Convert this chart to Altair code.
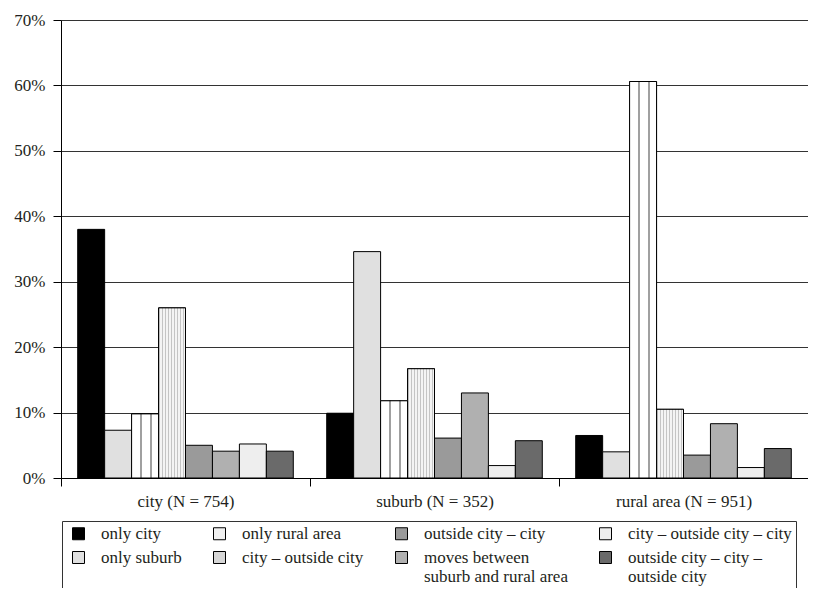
import altair as alt
import pandas as pd

# ---- data ----
areas = ["city (N = 754)", "suburb (N = 352)", "rural area (N = 951)"]
series = [
    "only city",
    "only suburb",
    "only rural area",
    "city – outside city",
    "outside city – city",
    "moves between suburb and rural area",
    "city – outside city – city",
    "outside city – city – outside city",
]
city_vals = [38.0, 7.3, 9.8, 26.0, 5.0, 4.1, 5.2, 4.1]
suburb_vals = [9.9, 34.6, 11.8, 16.7, 6.1, 13.0, 1.9, 5.7]
rural_vals = [6.5, 4.0, 60.6, 10.5, 3.5, 8.3, 1.6, 4.5]
y_ticks = [0, 10, 20, 30, 40, 50, 60, 70]

# legend is filled row by row, 4 columns
legend_order = [
    "only city",
    "only rural area",
    "outside city – city",
    "city – outside city – city",
    "only suburb",
    "city – outside city",
    "moves between suburb and rural area",
    "outside city – city – outside city",
]
legend_colors = [
    "#000000",
    "#f0f0f0",
    "#9a9a9a",
    "#eeeeee",
    "#e0e0e0",
    "#d6d6d6",
    "#b0b0b0",
    "#6a6a6a",
]

rows = []
for area, vals in zip(areas, [city_vals, suburb_vals, rural_vals]):
    for s, v in zip(series, vals):
        rows.append({"area": area, "series": s, "value": v / 100.0})
df = pd.DataFrame(rows)

FONT = "Liberation Serif"
TXT = "#231f20"


def stripes(n, line_col, bg_col, frac):
    stops = []
    for k in range(n):
        a = k / n
        b = (k + frac) / n
        c = (k + 1) / n
        stops += [
            {"offset": a, "color": line_col},
            {"offset": b, "color": line_col},
            {"offset": b, "color": bg_col},
            {"offset": c, "color": bg_col},
        ]
    return {"gradient": "linear", "x1": 0, "x2": 1, "y1": 0, "y2": 0, "stops": stops}


grad_vertical = stripes(9, "#c4c4c4", "#f4f4f4", 0.55)
grad_grid = {
    "gradient": "linear", "x1": 0, "x2": 1, "y1": 0, "y2": 0,
    "stops": [
        {"offset": 0.0, "color": "#ffffff"},
        {"offset": 0.33, "color": "#ffffff"},
        {"offset": 0.33, "color": "#a0a0a0"},
        {"offset": 0.40, "color": "#a0a0a0"},
        {"offset": 0.40, "color": "#ffffff"},
        {"offset": 0.70, "color": "#ffffff"},
        {"offset": 0.70, "color": "#a0a0a0"},
        {"offset": 0.77, "color": "#a0a0a0"},
        {"offset": 0.77, "color": "#ffffff"},
        {"offset": 1.0, "color": "#ffffff"},
    ],
}

label_expr = (
    "datum.label == 'moves between suburb and rural area' ? ['moves between', 'suburb and rural area'] : "
    "datum.label == 'outside city – city – outside city' ? ['outside city – city –', 'outside city'] : "
    "datum.label"
)

x_enc = alt.X(
    "area:N",
    sort=areas,
    scale=alt.Scale(paddingInner=0, paddingOuter=0),
    axis=alt.Axis(
        title=None,
        labelAngle=0,
        tickBand="extent",
        tickSize=8,
        tickColor="black",
        domainColor="black",
        labelPadding=7,
        labelFont=FONT,
        labelFontSize=17,
        labelColor=TXT,
    ),
)
xoff_enc = alt.XOffset(
    "series:N",
    sort=series,
    scale=alt.Scale(domain=series, paddingInner=0, paddingOuter=0.62),
)
y_enc = alt.Y(
    "value:Q",
    scale=alt.Scale(domain=[0, 0.7], nice=False),
    axis=alt.Axis(
        title=None,
        values=[t / 100.0 for t in y_ticks],
        format=".0%",
        grid=True,
        gridColor="#333333",
        gridWidth=1,
        tickSize=8,
        tickColor="black",
        domainColor="black",
        labelPadding=8,
        labelFont=FONT,
        labelFontSize=17,
        labelColor=TXT,
    ),
)

base = alt.Chart(df).encode(x=x_enc, xOffset=xoff_enc, y=y_enc)

bars = base.mark_bar(stroke="black", strokeWidth=1).encode(
    color=alt.Color(
        "series:N",
        scale=alt.Scale(domain=legend_order, range=legend_colors),
        legend=alt.Legend(
            title=None,
            orient="none",
            legendX=1,
            legendY=501,
            direction="horizontal",
            columns=4,
            symbolType="square",
            symbolSize=144,
            symbolStrokeColor="black",
            symbolStrokeWidth=1,
            symbolOffset=4,
            labelFont=FONT,
            labelFontSize=17,
            labelColor=TXT,
            labelLimit=400,
            labelOffset=14,
            labelExpr=label_expr,
            columnPadding=25,
            rowPadding=6,
            padding=4,
            strokeColor="#333333",
        ),
    )
)

vert = base.transform_filter(alt.datum.series == "city – outside city").mark_bar(
    fill=grad_vertical, stroke="black", strokeWidth=1
)
grid = base.transform_filter(alt.datum.series == "only rural area").mark_bar(
    fill=grad_grid, stroke="black", strokeWidth=1
)

chart = (
    alt.layer(bars, vert, grid)
    .properties(
        width=747,
        height=458,
        autosize=alt.AutoSizeParams(type="none"),
        padding={"left": 53, "top": 12, "right": 0, "bottom": 110},
    )
    .configure_view(stroke=None)
)

chart.save("out.html", embed_options={"renderer": "svg", "actions": False})
